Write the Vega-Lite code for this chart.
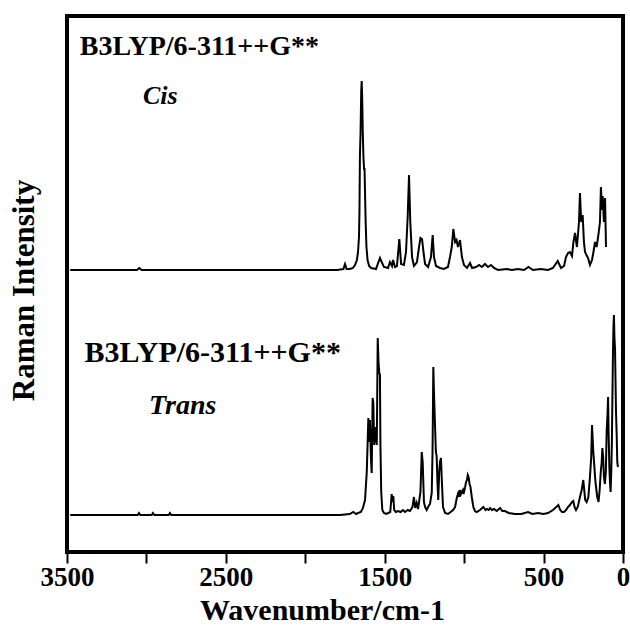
{
  "$schema": "https://vega.github.io/schema/vega-lite/v6.json",
  "width": 556,
  "height": 536,
  "autosize": "none",
  "padding": {"left": 67, "top": 16, "right": 7, "bottom": 75},
  "background": "white",
  "config": {
    "view": {"stroke": "black", "strokeWidth": 4},
    "font": "Liberation Serif"
  },
  "datasets": {
    "spectra": [
      {"c":"Cis","w":3480,"v":282},{"c":"Cis","w":3060,"v":282},{"c":"Cis","w":3045,"v":284},{"c":"Cis","w":3030,"v":282},{"c":"Cis","w":1800,"v":282},{"c":"Cis","w":1760,"v":283},{"c":"Cis","w":1750,"v":288},{"c":"Cis","w":1740,"v":283},{"c":"Cis","w":1720,"v":283},{"c":"Cis","w":1700,"v":284},{"c":"Cis","w":1687,"v":287},{"c":"Cis","w":1675,"v":292},{"c":"Cis","w":1668,"v":300},{"c":"Cis","w":1662,"v":315},{"c":"Cis","w":1659,"v":340},{"c":"Cis","w":1656,"v":397},{"c":"Cis","w":1652,"v":420},{"c":"Cis","w":1648,"v":460},{"c":"Cis","w":1645,"v":471},{"c":"Cis","w":1642,"v":455},{"c":"Cis","w":1638,"v":420},{"c":"Cis","w":1634,"v":395},{"c":"Cis","w":1630,"v":383},{"c":"Cis","w":1627,"v":383},{"c":"Cis","w":1624,"v":360},{"c":"Cis","w":1620,"v":330},{"c":"Cis","w":1615,"v":305},{"c":"Cis","w":1608,"v":292},{"c":"Cis","w":1598,"v":286},{"c":"Cis","w":1585,"v":284},{"c":"Cis","w":1555,"v":283},{"c":"Cis","w":1530,"v":294},{"c":"Cis","w":1505,"v":285},{"c":"Cis","w":1479,"v":284},{"c":"Cis","w":1467,"v":290},{"c":"Cis","w":1454,"v":286},{"c":"Cis","w":1448,"v":292},{"c":"Cis","w":1435,"v":285},{"c":"Cis","w":1423,"v":286},{"c":"Cis","w":1408,"v":313},{"c":"Cis","w":1397,"v":288},{"c":"Cis","w":1379,"v":287},{"c":"Cis","w":1366,"v":300},{"c":"Cis","w":1355,"v":337},{"c":"Cis","w":1347,"v":377},{"c":"Cis","w":1339,"v":330},{"c":"Cis","w":1328,"v":295},{"c":"Cis","w":1316,"v":286},{"c":"Cis","w":1297,"v":290},{"c":"Cis","w":1284,"v":305},{"c":"Cis","w":1275,"v":314},{"c":"Cis","w":1265,"v":313},{"c":"Cis","w":1256,"v":300},{"c":"Cis","w":1246,"v":288},{"c":"Cis","w":1227,"v":285},{"c":"Cis","w":1209,"v":295},{"c":"Cis","w":1198,"v":317},{"c":"Cis","w":1190,"v":295},{"c":"Cis","w":1177,"v":286},{"c":"Cis","w":1152,"v":284},{"c":"Cis","w":1127,"v":283},{"c":"Cis","w":1102,"v":285},{"c":"Cis","w":1089,"v":295},{"c":"Cis","w":1078,"v":305},{"c":"Cis","w":1068,"v":323},{"c":"Cis","w":1057,"v":310},{"c":"Cis","w":1048,"v":312},{"c":"Cis","w":1039,"v":305},{"c":"Cis","w":1026,"v":312},{"c":"Cis","w":1014,"v":295},{"c":"Cis","w":1001,"v":287},{"c":"Cis","w":982,"v":284},{"c":"Cis","w":963,"v":289},{"c":"Cis","w":950,"v":284},{"c":"Cis","w":925,"v":285},{"c":"Cis","w":906,"v":287},{"c":"Cis","w":888,"v":285},{"c":"Cis","w":869,"v":288},{"c":"Cis","w":850,"v":285},{"c":"Cis","w":831,"v":287},{"c":"Cis","w":812,"v":284},{"c":"Cis","w":787,"v":282},{"c":"Cis","w":732,"v":283},{"c":"Cis","w":699,"v":282},{"c":"Cis","w":661,"v":283},{"c":"Cis","w":623,"v":282},{"c":"Cis","w":595,"v":285},{"c":"Cis","w":567,"v":282},{"c":"Cis","w":518,"v":283},{"c":"Cis","w":472,"v":282},{"c":"Cis","w":441,"v":284},{"c":"Cis","w":411,"v":291},{"c":"Cis","w":390,"v":284},{"c":"Cis","w":371,"v":286},{"c":"Cis","w":359,"v":295},{"c":"Cis","w":346,"v":299},{"c":"Cis","w":334,"v":300},{"c":"Cis","w":321,"v":296},{"c":"Cis","w":312,"v":310},{"c":"Cis","w":302,"v":319},{"c":"Cis","w":290,"v":305},{"c":"Cis","w":277,"v":330},{"c":"Cis","w":271,"v":359},{"c":"Cis","w":263,"v":330},{"c":"Cis","w":254,"v":337},{"c":"Cis","w":246,"v":310},{"c":"Cis","w":239,"v":300},{"c":"Cis","w":230,"v":297},{"c":"Cis","w":220,"v":294},{"c":"Cis","w":208,"v":287},{"c":"Cis","w":195,"v":292},{"c":"Cis","w":186,"v":300},{"c":"Cis","w":176,"v":310},{"c":"Cis","w":166,"v":305},{"c":"Cis","w":155,"v":317},{"c":"Cis","w":145,"v":330},{"c":"Cis","w":139,"v":365},{"c":"Cis","w":132,"v":342},{"c":"Cis","w":128,"v":356},{"c":"Cis","w":120,"v":330},{"c":"Cis","w":113,"v":354},{"c":"Cis","w":107,"v":305},
      {"c":"Trans","w":3480,"v":37},{"c":"Trans","w":3055,"v":37},{"c":"Trans","w":3047,"v":39},{"c":"Trans","w":3038,"v":37},{"c":"Trans","w":2967,"v":37},{"c":"Trans","w":2959,"v":39},{"c":"Trans","w":2950,"v":37},{"c":"Trans","w":2860,"v":37},{"c":"Trans","w":2852,"v":39},{"c":"Trans","w":2844,"v":37},{"c":"Trans","w":1781,"v":37},{"c":"Trans","w":1720,"v":38},{"c":"Trans","w":1698,"v":40},{"c":"Trans","w":1680,"v":38},{"c":"Trans","w":1668,"v":39},{"c":"Trans","w":1650,"v":40},{"c":"Trans","w":1637,"v":44},{"c":"Trans","w":1624,"v":52},{"c":"Trans","w":1613,"v":80},{"c":"Trans","w":1603,"v":134},{"c":"Trans","w":1598,"v":110},{"c":"Trans","w":1593,"v":132},{"c":"Trans","w":1587,"v":95},{"c":"Trans","w":1582,"v":79},{"c":"Trans","w":1576,"v":154},{"c":"Trans","w":1572,"v":150},{"c":"Trans","w":1566,"v":107},{"c":"Trans","w":1561,"v":115},{"c":"Trans","w":1555,"v":125},{"c":"Trans","w":1550,"v":107},{"c":"Trans","w":1544,"v":214},{"c":"Trans","w":1539,"v":190},{"c":"Trans","w":1534,"v":179},{"c":"Trans","w":1530,"v":177},{"c":"Trans","w":1527,"v":107},{"c":"Trans","w":1522,"v":60},{"c":"Trans","w":1515,"v":42},{"c":"Trans","w":1505,"v":39},{"c":"Trans","w":1490,"v":38},{"c":"Trans","w":1465,"v":40},{"c":"Trans","w":1456,"v":58},{"c":"Trans","w":1451,"v":50},{"c":"Trans","w":1446,"v":56},{"c":"Trans","w":1440,"v":42},{"c":"Trans","w":1430,"v":40},{"c":"Trans","w":1416,"v":41},{"c":"Trans","w":1400,"v":40},{"c":"Trans","w":1385,"v":42},{"c":"Trans","w":1372,"v":40},{"c":"Trans","w":1355,"v":42},{"c":"Trans","w":1341,"v":41},{"c":"Trans","w":1325,"v":45},{"c":"Trans","w":1316,"v":55},{"c":"Trans","w":1308,"v":44},{"c":"Trans","w":1299,"v":49},{"c":"Trans","w":1290,"v":43},{"c":"Trans","w":1275,"v":60},{"c":"Trans","w":1267,"v":100},{"c":"Trans","w":1261,"v":90},{"c":"Trans","w":1253,"v":50},{"c":"Trans","w":1246,"v":45},{"c":"Trans","w":1236,"v":42},{"c":"Trans","w":1227,"v":45},{"c":"Trans","w":1215,"v":48},{"c":"Trans","w":1204,"v":59},{"c":"Trans","w":1199,"v":100},{"c":"Trans","w":1194,"v":185},{"c":"Trans","w":1190,"v":160},{"c":"Trans","w":1183,"v":125},{"c":"Trans","w":1178,"v":100},{"c":"Trans","w":1173,"v":96},{"c":"Trans","w":1168,"v":70},{"c":"Trans","w":1163,"v":52},{"c":"Trans","w":1157,"v":80},{"c":"Trans","w":1152,"v":90},{"c":"Trans","w":1146,"v":94},{"c":"Trans","w":1140,"v":70},{"c":"Trans","w":1133,"v":45},{"c":"Trans","w":1120,"v":39},{"c":"Trans","w":1102,"v":38},{"c":"Trans","w":1085,"v":40},{"c":"Trans","w":1070,"v":42},{"c":"Trans","w":1057,"v":45},{"c":"Trans","w":1045,"v":55},{"c":"Trans","w":1037,"v":59},{"c":"Trans","w":1030,"v":55},{"c":"Trans","w":1026,"v":62},{"c":"Trans","w":1020,"v":58},{"c":"Trans","w":1015,"v":60},{"c":"Trans","w":1008,"v":62},{"c":"Trans","w":1004,"v":58},{"c":"Trans","w":995,"v":64},{"c":"Trans","w":988,"v":70},{"c":"Trans","w":982,"v":72},{"c":"Trans","w":977,"v":77},{"c":"Trans","w":972,"v":75},{"c":"Trans","w":966,"v":68},{"c":"Trans","w":960,"v":65},{"c":"Trans","w":952,"v":55},{"c":"Trans","w":942,"v":45},{"c":"Trans","w":932,"v":41},{"c":"Trans","w":921,"v":40},{"c":"Trans","w":900,"v":42},{"c":"Trans","w":879,"v":45},{"c":"Trans","w":865,"v":42},{"c":"Trans","w":856,"v":43},{"c":"Trans","w":845,"v":42},{"c":"Trans","w":837,"v":44},{"c":"Trans","w":825,"v":42},{"c":"Trans","w":812,"v":43},{"c":"Trans","w":795,"v":41},{"c":"Trans","w":774,"v":44},{"c":"Trans","w":760,"v":41},{"c":"Trans","w":743,"v":41},{"c":"Trans","w":720,"v":39},{"c":"Trans","w":680,"v":38},{"c":"Trans","w":640,"v":38},{"c":"Trans","w":598,"v":40},{"c":"Trans","w":570,"v":38},{"c":"Trans","w":535,"v":39},{"c":"Trans","w":500,"v":38},{"c":"Trans","w":472,"v":39},{"c":"Trans","w":441,"v":42},{"c":"Trans","w":420,"v":45},{"c":"Trans","w":407,"v":47},{"c":"Trans","w":395,"v":42},{"c":"Trans","w":384,"v":40},{"c":"Trans","w":371,"v":40},{"c":"Trans","w":359,"v":42},{"c":"Trans","w":346,"v":45},{"c":"Trans","w":334,"v":47},{"c":"Trans","w":321,"v":50},{"c":"Trans","w":313,"v":51},{"c":"Trans","w":305,"v":45},{"c":"Trans","w":296,"v":42},{"c":"Trans","w":285,"v":45},{"c":"Trans","w":271,"v":55},{"c":"Trans","w":260,"v":62},{"c":"Trans","w":250,"v":72},{"c":"Trans","w":244,"v":62},{"c":"Trans","w":238,"v":52},{"c":"Trans","w":229,"v":50},{"c":"Trans","w":218,"v":55},{"c":"Trans","w":208,"v":75},{"c":"Trans","w":200,"v":95},{"c":"Trans","w":195,"v":127},{"c":"Trans","w":190,"v":110},{"c":"Trans","w":187,"v":100},{"c":"Trans","w":180,"v":85},{"c":"Trans","w":176,"v":75},{"c":"Trans","w":170,"v":65},{"c":"Trans","w":162,"v":55},{"c":"Trans","w":154,"v":50},{"c":"Trans","w":148,"v":60},{"c":"Trans","w":140,"v":80},{"c":"Trans","w":134,"v":90},{"c":"Trans","w":130,"v":104},{"c":"Trans","w":125,"v":95},{"c":"Trans","w":120,"v":75},{"c":"Trans","w":114,"v":68},{"c":"Trans","w":108,"v":80},{"c":"Trans","w":103,"v":120},{"c":"Trans","w":97,"v":140},{"c":"Trans","w":94,"v":155},{"c":"Trans","w":90,"v":115},{"c":"Trans","w":86,"v":85},{"c":"Trans","w":82,"v":70},{"c":"Trans","w":78,"v":60},{"c":"Trans","w":74,"v":80},{"c":"Trans","w":70,"v":110},{"c":"Trans","w":67,"v":150},{"c":"Trans","w":63,"v":200},{"c":"Trans","w":60,"v":225},{"c":"Trans","w":57,"v":237},{"c":"Trans","w":54,"v":215},{"c":"Trans","w":50,"v":202},{"c":"Trans","w":47,"v":170},{"c":"Trans","w":44,"v":140},{"c":"Trans","w":40,"v":119},{"c":"Trans","w":36,"v":90},{"c":"Trans","w":32,"v":85}
    ]
  },
  "layer": [
    {
      "data": {"name": "spectra"},
      "mark": {"type": "line", "color": "black", "strokeWidth": 2, "clip": true},
      "encoding": {
        "x": {
          "field": "w", "type": "quantitative",
          "scale": {"domain": [0, 3500], "reverse": true, "nice": false, "zero": false},
          "axis": {
            "values": [0,250,500,750,1000,1250,1500,1750,2000,2250,2500,2750,3000,3250,3500],
            "labelExpr": "indexof([3500,2500,1500,500,0], datum.value) >= 0 ? format(datum.value, 'd') : ''",
            "labelFlush": false,
            "labelOverlap": false,
            "labelFont": "Liberation Serif",
            "labelFontWeight": "bold",
            "labelFontSize": 27,
            "labelColor": "black",
            "labelBaseline": "alphabetic",
            "labelPadding": 22,
            "tickSize": 11,
            "tickWidth": 2,
            "tickColor": "black",
            "domain": false,
            "grid": false,
            "title": "Wavenumber/cm-1",
            "titleFont": "Liberation Serif",
            "titleFontWeight": "bold",
            "titleFontSize": 30,
            "titleColor": "black",
            "titleBaseline": "alphabetic",
            "titleX": 255,
            "titleY": 67
          }
        },
        "y": {
          "field": "v", "type": "quantitative",
          "scale": {"domain": [0, 536], "nice": false, "zero": false},
          "axis": {
            "labels": false,
            "ticks": false,
            "domain": false,
            "grid": false,
            "title": "Raman Intensity",
            "titleFont": "Liberation Serif",
            "titleFontWeight": "bold",
            "titleFontSize": 31,
            "titleColor": "black",
            "titleAngle": -90,
            "titleBaseline": "alphabetic",
            "titleAlign": "center",
            "titleX": -34,
            "titleY": 274
          }
        },
        "detail": {"field": "c", "type": "nominal"}
      }
    },
    {
      "data": {"values": [{"w": 3420, "v": 497, "label": "B3LYP/6-311++G**"}]},
      "mark": {"type": "text", "align": "left", "baseline": "alphabetic", "font": "Liberation Serif", "fontWeight": "bold", "fontSize": 28, "color": "black"},
      "encoding": {
        "x": {"field": "w", "type": "quantitative"},
        "y": {"field": "v", "type": "quantitative"},
        "text": {"field": "label"}
      }
    },
    {
      "data": {"values": [{"w": 3390, "v": 190, "label": "B3LYP/6-311++G**"}]},
      "mark": {"type": "text", "align": "left", "baseline": "alphabetic", "font": "Liberation Serif", "fontWeight": "bold", "fontSize": 30, "color": "black"},
      "encoding": {
        "x": {"field": "w", "type": "quantitative"},
        "y": {"field": "v", "type": "quantitative"},
        "text": {"field": "label"}
      }
    },
    {
      "data": {"values": [{"w": 3022, "v": 448, "label": "Cis"}]},
      "mark": {"type": "text", "align": "left", "baseline": "alphabetic", "font": "Liberation Serif", "fontWeight": "bold", "fontStyle": "italic", "fontSize": 26, "color": "black"},
      "encoding": {
        "x": {"field": "w", "type": "quantitative"},
        "y": {"field": "v", "type": "quantitative"},
        "text": {"field": "label"}
      }
    },
    {
      "data": {"values": [{"w": 2984, "v": 138, "label": "Trans"}]},
      "mark": {"type": "text", "align": "left", "baseline": "alphabetic", "font": "Liberation Serif", "fontWeight": "bold", "fontStyle": "italic", "fontSize": 28, "color": "black"},
      "encoding": {
        "x": {"field": "w", "type": "quantitative"},
        "y": {"field": "v", "type": "quantitative"},
        "text": {"field": "label"}
      }
    }
  ]
}
